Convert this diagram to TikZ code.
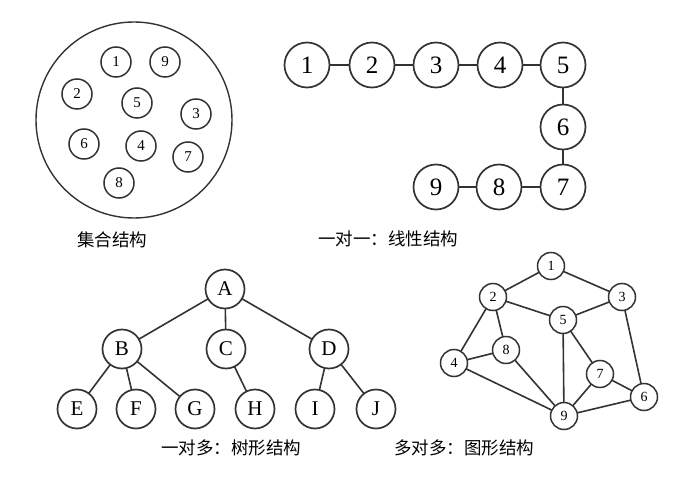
\documentclass[tikz,border=0pt]{standalone}
\usepackage{fontspec}
\setmainfont{Liberation Serif}
\newfontfamily\cjk{Noto Sans CJK SC}
\begin{document}
\begin{tikzpicture}[x=1pt,y=-1pt,
  every node/.style={inner sep=0pt, outer sep=0pt},
  setc/.style={circle, draw=black!80, line width=1.5pt, minimum size=30pt, font=\fontsize{15}{15}\selectfont},
  linc/.style={circle, draw=black!80, line width=1.7pt, minimum size=45pt, font=\fontsize{25}{25}\selectfont},
  treec/.style={circle, draw=black!80, line width=1.7pt, minimum size=39pt, font=\fontsize{21}{21}\selectfont},
  grc/.style={circle, draw=black!80, line width=1.5pt, minimum size=27pt, font=\fontsize{14}{14}\selectfont},
  edge/.style={draw=black!80, line width=1.6pt},
  lbl/.style={font=\cjk\fontsize{17.5}{17.5}\selectfont}]
\useasboundingbox (0,0) rectangle (694,481);
% set
\node[circle, draw=black!80, line width=1.4pt, minimum size=196pt] (big) at (134,120) {};
\node[setc] (s1) at (116,62) {1};
\node[setc] (s9) at (165,62) {9};
\node[setc] (s2) at (77,94) {2};
\node[setc] (s5) at (137,103) {5};
\node[setc] (s3) at (196,114) {3};
\node[setc] (s6) at (84,144) {6};
\node[setc] (s4) at (141,146) {4};
\node[setc] (s7) at (188,157) {7};
\node[setc] (s8) at (119,183) {8};
% linear
\node[linc] (l1) at (307,65) {1};
\node[linc] (l2) at (372,65) {2};
\node[linc] (l3) at (436,65) {3};
\node[linc] (l4) at (500,65) {4};
\node[linc] (l5) at (563,65) {5};
\node[linc] (l6) at (563,127) {6};
\node[linc] (l7) at (563,187) {7};
\node[linc] (l8) at (499,187) {8};
\node[linc] (l9) at (436,187) {9};
\path[edge] (l1)--(l2) (l2)--(l3) (l3)--(l4) (l4)--(l5) (l5)--(l6) (l6)--(l7) (l7)--(l8) (l8)--(l9);
% tree
\node[treec] (A) at (225,289) {A};
\node[treec] (B) at (122,349) {B};
\node[treec] (C) at (226,349) {C};
\node[treec] (D) at (329,349) {D};
\node[treec] (E) at (77,409) {E};
\node[treec] (F) at (136,409) {F};
\node[treec] (G) at (195,409) {G};
\node[treec] (H) at (255,409) {H};
\node[treec] (I) at (315,409) {I};
\node[treec] (J) at (376,409) {J};
\path[edge] (A)--(B) (A)--(C) (A)--(D) (B)--(E) (B)--(F) (B)--(G) (C)--(H) (D)--(I) (D)--(J);
% graph
\node[grc] (g1) at (551,266) {1};
\node[grc] (g2) at (493,297) {2};
\node[grc] (g3) at (622,297) {3};
\node[grc] (g5) at (563,320) {5};
\node[grc] (g8) at (506,350) {8};
\node[grc] (g4) at (454,363) {4};
\node[grc] (g7) at (600,374) {7};
\node[grc] (g6) at (644,397) {6};
\node[grc] (g9) at (564,416) {9};
\path[edge] (g1)--(g2) (g1)--(g3) (g2)--(g5) (g3)--(g5) (g2)--(g4) (g2)--(g8) (g4)--(g8)
  (g4)--(g9) (g8)--(g9) (g5)--(g9) (g5)--(g7) (g7)--(g9) (g7)--(g6) (g3)--(g6) (g9)--(g6);
% labels
\node[lbl] (t1) at (112,240) {集合结构};
\node[lbl] (t2) at (388,239) {一对一：线性结构};
\node[lbl] (t3) at (231,448) {一对多：树形结构};
\node[lbl] (t4) at (464,448) {多对多：图形结构};
\end{tikzpicture}
\end{document}
